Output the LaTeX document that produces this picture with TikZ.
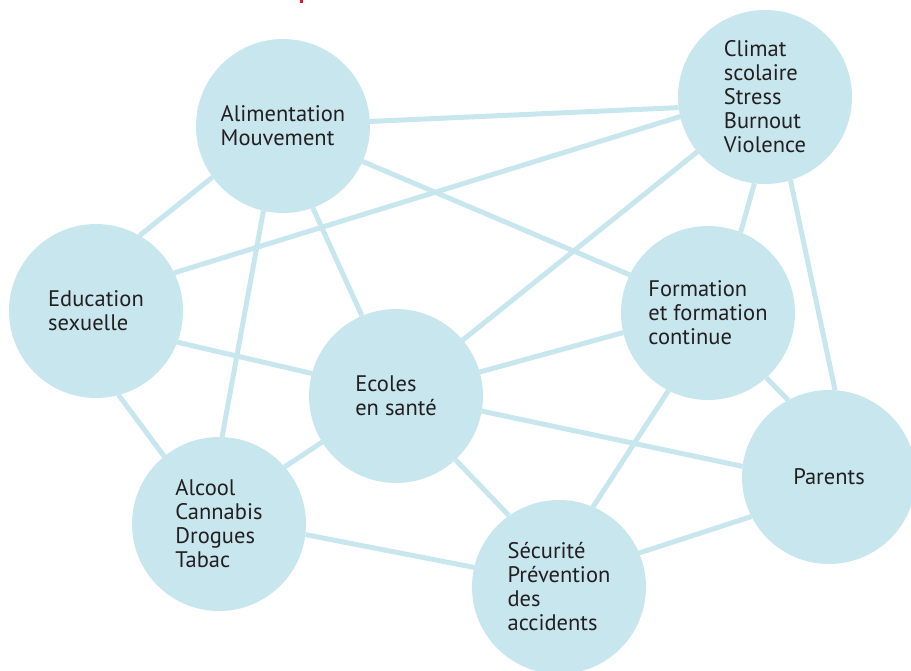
\documentclass[tikz,border=0pt]{standalone}
\usepackage{fontspec}
\setmainfont{PT Sans}
\definecolor{bub}{RGB}{200,230,238}
\definecolor{txt}{RGB}{35,31,32}
\definecolor{redmark}{RGB}{230,20,40}
\tikzset{
  bubble/.style={circle, fill=bub, minimum size=174pt, inner sep=0pt, outer sep=0pt,
    align=left, text=txt, font=\fontsize{22.5pt}{24pt}\selectfont},
  link/.style={draw=bub, line width=5pt}
}
\begin{document}
\begin{tikzpicture}[x=1pt,y=-1pt]
\useasboundingbox (0,0) rectangle (911,670);
\fill[redmark] (300,0) rectangle (303,3);
\node[bubble] (ali) at (283,126) {Alimentation\\Mouvement};
\node[bubble] (cli) at (765,97) {Climat\\scolaire\\Stress\\Burnout\\Violence};
\node[bubble] (edu) at (96,311) {Education\\sexuelle};
\node[bubble] (for) at (708,313) {Formation\\et formation\\continue};
\node[bubble] (eco) at (396,396) {Ecoles\\en santé};
\node[bubble] (alc) at (219,524) {Alcool\\Cannabis\\Drogues\\Tabac};
\node[bubble] (sec) at (559,587) {Sécurité\\Prévention\\des\\accidents};
\node[bubble] (par) at (829,477) {Parents};
\draw[link] (ali.3) -- (cli.187);
\draw[link] (ali.216) -- (edu.60);
\draw[link] (ali.257) -- (alc.88);
\draw[link] (ali.-70) -- (eco.113);
\draw[link] (ali.-24.5) -- (for.154.6);
\draw[link] (cli.193) -- (edu.26);
\draw[link] (cli.219) -- (eco.40);
\draw[link] (cli.263) -- (for.68);
\draw[link] (cli.-73) -- (par.86);
\draw[link] (edu.-21) -- (eco.165);
\draw[link] (edu.-75) -- (alc.129);
\draw[link] (eco.16) -- (for.193);
\draw[link] (eco.-10.5) -- (par.173);
\draw[link] (eco.-47) -- (sec.125);
\draw[link] (eco.212) -- (alc.41.8);
\draw[link] (for.-48) -- (par.118);
\draw[link] (for.243) -- (sec.67);
\draw[link] (alc.-7) -- (sec.167);
\draw[link] (sec.23.6) -- (par.207);
\end{tikzpicture}
\end{document}
